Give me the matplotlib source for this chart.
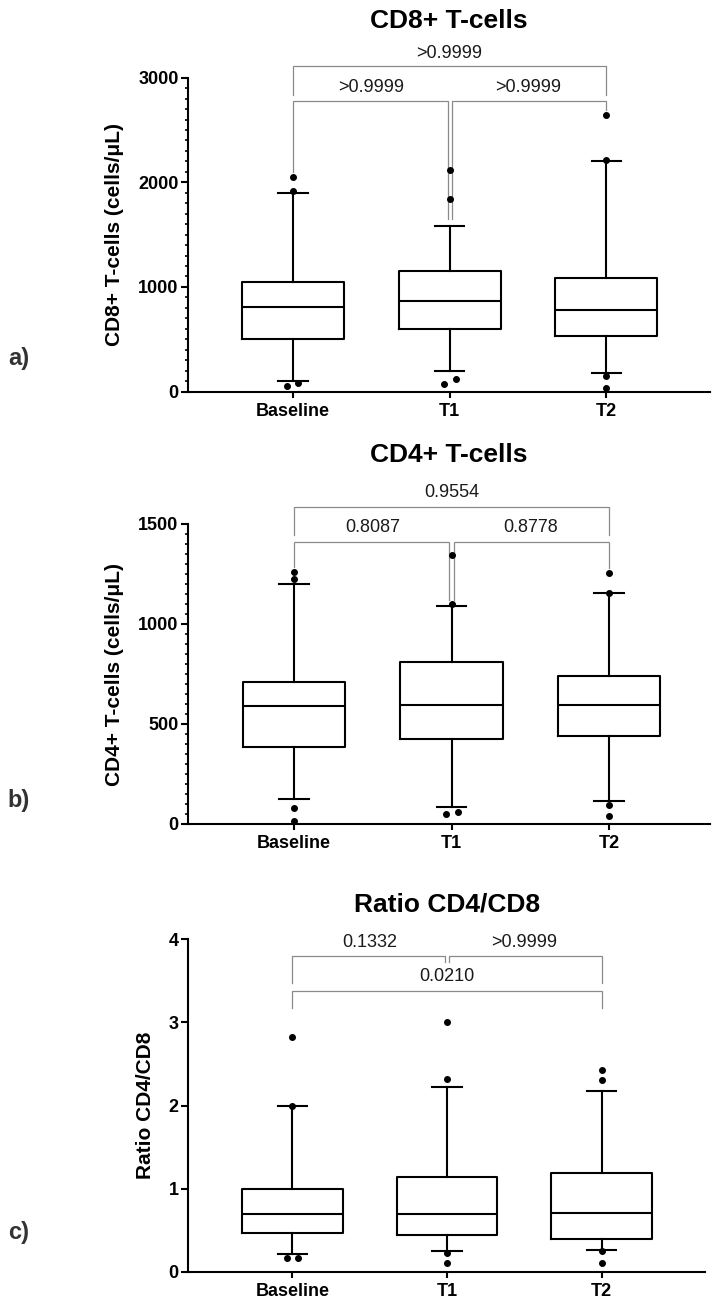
import matplotlib
matplotlib.use("Agg")
import matplotlib.pyplot as plt
from matplotlib.ticker import MultipleLocator, NullLocator

plt.rcParams['font.family'] = ['Liberation Sans', 'DejaVu Sans']

W, H = 721, 1305

groups = ["Baseline", "T1", "T2"]

# a) CD8+ T-cells (cells/uL): box = q1/median/q3, whiskers = 5-95 percentile
cd8_q1 = [498, 594, 532]
cd8_med = [807, 867, 778]
cd8_q3 = [1043, 1154, 1081]
cd8_lo = [100, 199, 178]
cd8_hi = [1899, 1581, 2205]
cd8_out = [[2052, 1918, 55, 78], [2116, 1836, 72, 119], [2641, 2214, 148, 31]]
cd8_p = [">0.9999", ">0.9999", ">0.9999"]   # B-T2, B-T1, T1-T2

# b) CD4+ T-cells (cells/uL)
cd4_q1 = [383, 424, 442]
cd4_med = [590, 597, 597]
cd4_q3 = [712, 811, 742]
cd4_lo = [125, 87, 117]
cd4_hi = [1198, 1090, 1157]
cd4_out = [[1262, 1225, 82, 15], [1345, 1100, 48, 60], [1255, 1157, 95, 42]]
cd4_p = ["0.9554", "0.8087", "0.8778"]

# c) Ratio CD4/CD8
rat_q1 = [0.46, 0.44, 0.39]
rat_med = [0.69, 0.70, 0.71]
rat_q3 = [1.00, 1.14, 1.19]
rat_lo = [0.21, 0.25, 0.26]
rat_hi = [2.00, 2.22, 2.175]
rat_out = [[2.83, 2.00, 0.16, 0.16], [3.00, 2.32, 0.23, 0.11], [2.43, 2.31, 0.25, 0.11]]
rat_p = ["0.0210", "0.1332", ">0.9999"]

# small sideways shift for outliers drawn next to each other
dx_a = [[0, 0, -0.036, 0.034], [0, 0, -0.035, 0.038], [0, 0, 0, 0]]
dx_b = [[0, 0, 0, 0], [0, 0, -0.035, 0.038], [0, 0, 0, 0]]
dx_c = [[0, 0, -0.037, 0.037], [0, 0, 0, 0], [0, 0, 0, 0]]

BRACKET = '#8a8a8a'
T1_GAP = 0.013


def fig_xy(x, y):
    return x / W, 1 - y / H


def bracket(ax, i, j, y, leg_i, leg_j, text, ty):
    xi = i + (T1_GAP if i == 1 else 0)
    xj = j - (T1_GAP if j == 1 else 0)
    ax.plot([xi, xi, xj, xj], [leg_i, y, y, leg_j], color=BRACKET, lw=0.9,
            clip_on=False, solid_joinstyle='miter', zorder=1)
    ax.text((i + j) / 2, ty, text, ha='center', va='center', fontsize=13,
            color='#1a1a1a')


def panel(rect, q1, med, q3, lo, hi, out, dx, ylim, major, minor, ylabel,
          xlim, labelpad=10):
    ax = fig.add_axes(rect)
    stats = []
    for k in range(len(groups)):
        stats.append(dict(q1=q1[k], med=med[k], q3=q3[k], whislo=lo[k],
                          whishi=hi[k], fliers=[], label=groups[k]))
    lw = 1.5
    ax.bxp(stats, positions=range(len(groups)), widths=0.65, capwidths=0.19,
           showfliers=False, patch_artist=False,
           boxprops=dict(color='black', lw=lw),
           medianprops=dict(color='black', lw=lw),
           whiskerprops=dict(color='black', lw=lw),
           capprops=dict(color='black', lw=lw))
    for k in range(len(groups)):
        for v, d in zip(out[k], dx[k]):
            ax.plot(k + d, v, 'o', color='black', ms=4, clip_on=False,
                    zorder=5)
    ax.set_xlim(*xlim)
    ax.set_ylim(*ylim)
    ax.yaxis.set_major_locator(MultipleLocator(major))
    if minor:
        ax.yaxis.set_minor_locator(MultipleLocator(minor))
    else:
        ax.yaxis.set_minor_locator(NullLocator())
    ax.xaxis.set_minor_locator(NullLocator())
    for s in ['top', 'right']:
        ax.spines[s].set_visible(False)
    for s in ['left', 'bottom']:
        ax.spines[s].set_linewidth(1.5)
    ax.tick_params(axis='y', which='major', length=5, width=1.5, pad=2,
                   labelsize=13)
    ax.tick_params(axis='y', which='minor', length=2.5, width=1.2)
    ax.tick_params(axis='x', length=4, width=1.5, pad=4, labelsize=13)
    for t in ax.get_xticklabels() + ax.get_yticklabels():
        t.set_fontweight('bold')
    ax.set_ylabel(ylabel, fontsize=15, fontweight='bold', labelpad=labelpad)
    return ax


fig = plt.figure(figsize=(W / 100, H / 100), dpi=100)

# panel a
x0, x1 = 188.3, 710
ax = panel([x0 / W, 1 - 391.5 / H, (x1 - x0) / W, (391.5 - 77.7) / H],
           cd8_q1, cd8_med, cd8_q3, cd8_lo, cd8_hi, cd8_out, dx_a,
           (0, 3000), 1000, 100, "CD8+ T-cells (cells/μL)", (-0.665, 2.66))
bracket(ax, 0, 2, 3109, 2832, 2832, cd8_p[0], 3236)
bracket(ax, 0, 1, 2775, 2100, 1648, cd8_p[1], 2906)
bracket(ax, 1, 2, 2775, 1648, 2689, cd8_p[2], 2906)
fig.text(*fig_xy((x0 + x1) / 2, 20.7), "CD8+ T-cells", ha='center',
         va='center', fontsize=19, fontweight='bold')
fig.text(*fig_xy(19, 358), "a)", ha='center', va='center', fontsize=17,
         fontweight='bold', color='#333333')

# panel b
ax = panel([x0 / W, 1 - 824 / H, (x1 - x0) / W, (824 - 524) / H],
           cd4_q1, cd4_med, cd4_q3, cd4_lo, cd4_hi, cd4_out, dx_b,
           (0, 1500), 500, 50, "CD4+ T-cells (cells/μL)", (-0.67, 2.64))
bracket(ax, 0, 2, 1587, 1445, 1445, cd4_p[0], 1657)
bracket(ax, 0, 1, 1412, 1283, 1120, cd4_p[1], 1483)
bracket(ax, 1, 2, 1412, 1120, 1280, cd4_p[2], 1483)
fig.text(*fig_xy((x0 + x1) / 2, 455), "CD4+ T-cells", ha='center',
         va='center', fontsize=19, fontweight='bold')
fig.text(*fig_xy(19, 800), "b)", ha='center', va='center', fontsize=17,
         fontweight='bold', color='#333333')

# panel c
x1c = 705
ax = panel([x0 / W, 1 - 1271.7 / H, (x1c - x0) / W, (1271.7 - 939.3) / H],
           rat_q1, rat_med, rat_q3, rat_lo, rat_hi, rat_out, dx_c,
           (0, 4), 1, None, "Ratio CD4/CD8", (-0.672, 2.668))
bracket(ax, 0, 1, 3.80, 3.47, 3.73, rat_p[1], 3.96)
bracket(ax, 1, 2, 3.80, 3.73, 3.47, rat_p[2], 3.96)
bracket(ax, 0, 2, 3.38, 3.17, 3.17, rat_p[0], 3.55)
fig.text(*fig_xy((x0 + x1c) / 2, 905), "Ratio CD4/CD8", ha='center',
         va='center', fontsize=19, fontweight='bold')
fig.text(*fig_xy(19, 1232), "c)", ha='center', va='center', fontsize=17,
         fontweight='bold', color='#333333')

fig.savefig("out.png", dpi=100)
